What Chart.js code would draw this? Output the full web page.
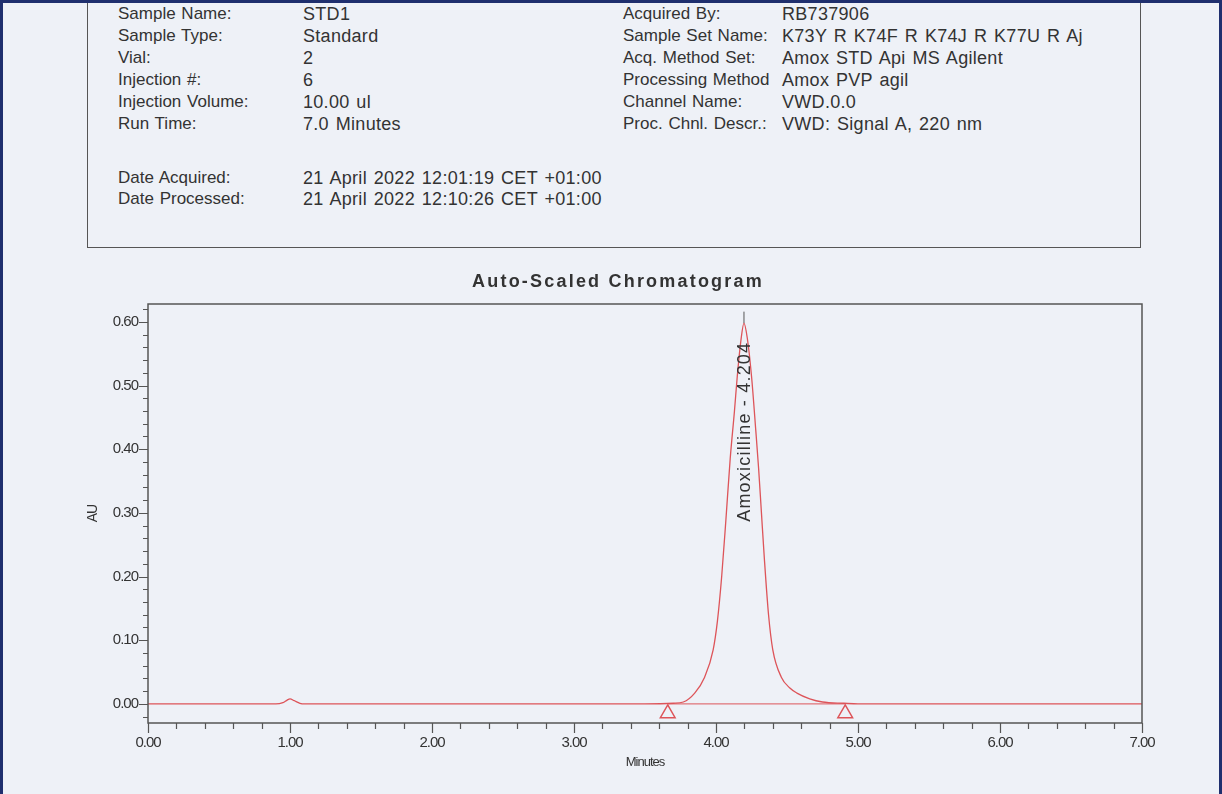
<!DOCTYPE html>
<html>
<head>
<meta charset="utf-8">
<script src="https://cdn.jsdelivr.net/npm/chart.js@4.4.1/dist/chart.umd.min.js"></script>
<style>
  html, body { margin: 0; padding: 0; background: #eef1f7; }
  body { width: 1222px; height: 794px; position: relative; overflow: hidden;
         font-family: 'Liberation Sans', Arial, sans-serif; color: #333; }
  #frame { position: absolute; left: 0; top: 0; width: 1222px; height: 794px; box-sizing: border-box;
           border: 3px solid #1f2f6e; border-bottom: none; pointer-events: none; z-index: 3; }
  #chartWrap { position: absolute; left: 0; top: 0; width: 1222px; height: 794px; }
  #header { position: absolute; left: 87px; top: -2px; width: 1054px; height: 250px;
            border: 1.5px solid #555; box-sizing: border-box; z-index: 2; }
  .f { position: absolute; white-space: nowrap; font-size: 17px; line-height: 20px; word-spacing: 1px; }
  .v { font-size: 18px; letter-spacing: 0.3px; word-spacing: 1.5px; }
</style>
</head>
<body>
<div id="frame"></div>
<div id="header"></div>
<div class="f" style="left:118px;top:4px">Sample Name:</div>
<div class="f v" style="left:303px;top:4px">STD1</div>
<div class="f" style="left:118px;top:26px">Sample Type:</div>
<div class="f v" style="left:303px;top:26px">Standard</div>
<div class="f" style="left:118px;top:48px">Vial:</div>
<div class="f v" style="left:303px;top:48px">2</div>
<div class="f" style="left:118px;top:70px">Injection #:</div>
<div class="f v" style="left:303px;top:70px">6</div>
<div class="f" style="left:118px;top:92px">Injection Volume:</div>
<div class="f v" style="left:303px;top:92px">10.00 ul</div>
<div class="f" style="left:118px;top:114px">Run Time:</div>
<div class="f v" style="left:303px;top:114px">7.0 Minutes</div>
<div class="f" style="left:118px;top:168px">Date Acquired:</div>
<div class="f v" style="left:303px;top:168px">21 April 2022 12:01:19 CET +01:00</div>
<div class="f" style="left:118px;top:189px">Date Processed:</div>
<div class="f v" style="left:303px;top:189px">21 April 2022 12:10:26 CET +01:00</div>

<div class="f" style="left:623px;top:4px">Acquired By:</div>
<div class="f v" style="left:782px;top:4px">RB737906</div>
<div class="f" style="left:623px;top:26px">Sample Set Name:</div>
<div class="f v" style="left:782px;top:26px">K73Y R K74F R K74J R K77U R Aj</div>
<div class="f" style="left:623px;top:48px">Acq. Method Set:</div>
<div class="f v" style="left:782px;top:48px">Amox STD Api MS Agilent</div>
<div class="f" style="left:623px;top:70px">Processing Method</div>
<div class="f v" style="left:782px;top:70px">Amox PVP agil</div>
<div class="f" style="left:623px;top:92px">Channel Name:</div>
<div class="f v" style="left:782px;top:92px">VWD.0.0</div>
<div class="f" style="left:623px;top:114px">Proc. Chnl. Descr.:</div>
<div class="f v" style="left:782px;top:114px">VWD: Signal A, 220 nm</div>

<div id="chartWrap"><canvas id="chart"></canvas></div>

<script>
// Signal (minutes, AU)
const signalTimes = [0.00, 0.50, 0.90, 0.95, 0.98, 1.00, 1.03, 1.07, 1.10, 1.50, 2.00, 2.50, 3.00, 3.50,
  3.70, 3.77, 3.85, 3.92, 3.98, 4.01, 4.04, 4.07, 4.10, 4.13, 4.15, 4.175, 4.197, 4.22, 4.25, 4.28,
  4.30, 4.32, 4.34, 4.37, 4.40, 4.46, 4.52, 4.57, 4.66, 4.75, 4.90, 5.00, 5.50, 6.00, 6.50, 7.00];
const signalAU = [0.000, 0.000, 0.000, 0.002, 0.006, 0.008, 0.005, 0.001, 0.000, 0.000, 0.000, 0.000, 0.000, 0.000,
  0.001, 0.003, 0.017, 0.042, 0.085, 0.130, 0.200, 0.290, 0.385, 0.460, 0.515, 0.570, 0.598, 0.575, 0.515, 0.430,
  0.370, 0.300, 0.230, 0.140, 0.085, 0.042, 0.025, 0.017, 0.008, 0.003, 0.001, 0.000, 0.000, 0.000, 0.000, 0.000];

// Integration limits (triangles) and drawn baseline between them
const limitTimes = [3.66, 4.91];
const limitBaselineAU = [0.000, 0.000];
const limitMarkerAU = -0.015;

// Peak label
const peakTime = 4.197;
const peakHeightAU = 0.598;
const peakName = 'Amoxicilline - 4.204';

// Axes
const xMajorTicks = [0, 1, 2, 3, 4, 5, 6, 7];
const xTickLabels = ['0.00', '1.00', '2.00', '3.00', '4.00', '5.00', '6.00', '7.00'];
const yMajorTicks = [0, 0.1, 0.2, 0.3, 0.4, 0.5, 0.6];
const yTickLabels = ['0.00', '0.10', '0.20', '0.30', '0.40', '0.50', '0.60'];
const chartTitle = 'Auto-Scaled Chromatogram';

const RED = '#dd5459';
const INK = '#333';
const AXIS = '#555';
const FONT = "'Liberation Sans', Arial, sans-serif";
Chart.defaults.font.family = FONT;

// The printout's axis text is set tight
const tightText = {
  id: 'tightText',
  beforeDraw(chart) { chart.ctx.letterSpacing = '-1px'; },
  afterDraw(chart) { chart.ctx.letterSpacing = '0px'; }
};

// Frame and tick marks (major + minor), drawn like the Empower printout
const axisFrame = {
  id: 'axisFrame',
  afterDatasetsDraw(chart) {
    const { ctx, chartArea: a, scales: { x, y } } = chart;
    ctx.save();
    ctx.strokeStyle = AXIS;
    ctx.lineWidth = 1.5;
    ctx.strokeRect(a.left, a.top, a.right - a.left, a.bottom - a.top);
    ctx.lineWidth = 1.2;
    ctx.beginPath();
    for (let v = 0; v <= 7.0001; v += 0.2) {
      const px = Math.round(x.getPixelForValue(v)) + 0.5;
      const major = Math.abs(v - Math.round(v)) < 1e-6;
      ctx.moveTo(px, a.bottom);
      ctx.lineTo(px, a.bottom + (major ? 10 : 6));
    }
    for (let v = -0.02; v <= 0.621; v += 0.02) {
      const py = Math.round(y.getPixelForValue(v)) + 0.5;
      const major = Math.abs(v * 10 - Math.round(v * 10)) < 1e-6;
      ctx.moveTo(a.left, py);
      ctx.lineTo(a.left - (major ? 9 : 5), py);
    }
    ctx.stroke();
    ctx.restore();
  }
};

// Title above the plot box and the rotated peak label
const labels = {
  id: 'labels',
  afterDatasetsDraw(chart) {
    const { ctx, chartArea: a, scales: { x, y } } = chart;
    ctx.save();
    ctx.letterSpacing = '2.2px';
    ctx.fillStyle = INK;
    ctx.font = 'bold 18px ' + FONT;
    ctx.textAlign = 'center';
    ctx.textBaseline = 'middle';
    ctx.fillText(chartTitle, 618, a.top - 22);
    ctx.restore();

    const px = x.getPixelForValue(peakTime);
    ctx.save();
    ctx.strokeStyle = AXIS;
    ctx.lineWidth = 1;
    ctx.beginPath();
    ctx.moveTo(px, y.getPixelForValue(peakHeightAU));
    ctx.lineTo(px, y.getPixelForValue(0.616));
    ctx.stroke();
    ctx.translate(px + 1, y.getPixelForValue(0.286));
    ctx.rotate(-Math.PI / 2);
    ctx.letterSpacing = '1.2px';
    ctx.fillStyle = INK;
    ctx.font = '18px ' + FONT;
    ctx.textAlign = 'left';
    ctx.textBaseline = 'middle';
    ctx.fillText(peakName, 0, 0);
    ctx.restore();
  }
};

new Chart(document.getElementById('chart').getContext('2d'), {
  type: 'line',
  data: {
    datasets: [{
      label: 'VWD: Signal A, 220 nm',
      data: signalTimes.map((t, i) => ({ x: t, y: signalAU[i] })),
      borderColor: RED,
      borderWidth: 1.3,
      pointRadius: 0,
      cubicInterpolationMode: 'monotone',
      fill: false
    }, {
      label: 'Baseline',
      data: limitTimes.map((t, i) => ({ x: t, y: limitBaselineAU[i] })),
      borderColor: RED,
      borderWidth: 1,
      pointRadius: 0,
      fill: false
    }, {
      label: 'Limits',
      data: limitTimes.map(t => ({ x: t, y: limitMarkerAU })),
      showLine: false,
      pointStyle: 'triangle',
      pointRadius: 8.5,
      borderColor: RED,
      borderWidth: 1.5,
      backgroundColor: 'rgba(0,0,0,0)',
      clip: false
    }]
  },
  options: {
    responsive: true,
    maintainAspectRatio: false,
    animation: false,
    layout: { padding: { left: 80, right: 80, top: 304, bottom: 0 } },
    plugins: {
      legend: { display: false },
      tooltip: { enabled: false },
      title: { display: false }
    },
    scales: {
      x: {
        type: 'linear',
        min: 0,
        max: 7,
        afterBuildTicks: s => { s.ticks = xMajorTicks.map(v => ({ value: v })); },
        afterFit: s => { s.height = 71; },
        grid: { display: false, drawTicks: false },
        border: { display: false },
        ticks: {
          callback: (v, i) => xTickLabels[i],
          autoSkip: false,
          maxRotation: 0,
          padding: 11,
          color: INK,
          font: { size: 15 }
        },
        title: {
          display: true,
          text: 'Minutes',
          color: INK,
          font: { size: 13 },
          padding: { top: 0, bottom: 24.2 }
        }
      },
      y: {
        type: 'linear',
        min: -0.03,
        max: 0.628,
        afterBuildTicks: s => { s.ticks = yMajorTicks.map(v => ({ value: v })); },
        afterFit: s => { s.width = 68; },
        grid: { display: false, drawTicks: false },
        border: { display: false },
        ticks: {
          callback: (v, i) => yTickLabels[i],
          autoSkip: false,
          padding: 10,
          color: INK,
          font: { size: 15 }
        },
        title: {
          display: true,
          text: 'AU',
          color: INK,
          font: { size: 14 },
          padding: { top: 4.6, bottom: 0 }
        }
      }
    }
  },
  plugins: [tightText, axisFrame, labels]
});
</script>
</body>
</html>
